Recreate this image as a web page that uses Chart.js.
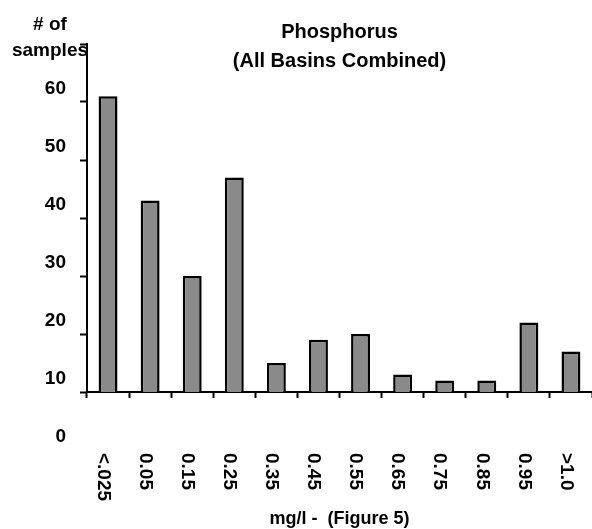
<!DOCTYPE html>
<html><head><meta charset="utf-8">
<script src="https://cdn.jsdelivr.net/npm/chart.js@4/dist/chart.umd.min.js"></script>
<style>html,body{margin:0;padding:0;background:#fff;} #wrap{width:592px;height:529px;}</style>
</head><body><div id="wrap"><canvas id="c" width="592" height="529"></canvas></div>
<script>
const categories = ['<.025','0.05','0.15','0.25','0.35','0.45','0.55','0.65','0.75','0.85','0.95','>1.0'];
const sampleCounts = [61,43,30,47,15,19,20,13,12,12,22,17];
const yTickValues = [0,10,20,30,40,50,60,70];
const yTickLabels = ['0','10','20','30','40','50','60',''];
const titleLines = ['Phosphorus','(All Basins Combined)'];
const yTitleLines = ['# of','samples'];
const xTitle = 'mg/l -  (Figure 5)';

const FAMILY = '"Liberation Sans", Arial, Helvetica, sans-serif';

const textPlugin = {
  id: 'texts',
  afterDraw(chart) {
    const ctx = chart.ctx;
    const xs = chart.scales.x;
    const ca = chart.chartArea;
    ctx.save();
    ctx.fillStyle = '#000';
    ctx.textAlign = 'center';
    ctx.textBaseline = 'alphabetic';
    ctx.font = 'bold 20px ' + FAMILY;
    const cx = (ca.left + ca.right) / 2;
    ctx.fillText(titleLines[0], cx, 38);
    ctx.fillText(titleLines[1], cx, 67);
    ctx.font = 'bold 19px ' + FAMILY;
    ctx.fillText(yTitleLines[0], 50, 30);
    ctx.fillText(yTitleLines[1], 50, 56);
    ctx.font = 'bold 19px ' + FAMILY;
    ctx.textAlign = 'left';
    ctx.textBaseline = 'middle';
    categories.forEach((c, i) => {
      const px = xs.getPixelForValue(i) - 5;
      ctx.save();
      ctx.translate(px, 453);
      ctx.rotate(Math.PI / 2);
      ctx.fillText(c, 0, 0);
      ctx.restore();
    });
    ctx.restore();
  }
};

new Chart(document.getElementById('c'), {
  type: 'bar',
  data: {
    labels: categories,
    datasets: [{
      data: sampleCounts,
      backgroundColor: '#8a8a8a',
      borderColor: '#000',
      borderWidth: 2.5,
      borderSkipped: false,
      barPercentage: 0.45,
      categoryPercentage: 1
    }]
  },
  options: {
    responsive: false,
    animation: false,
    devicePixelRatio: 1,
    layout: { padding: { top: 44, left: 0, right: 0, bottom: 0 } },
    plugins: { legend: { display: false }, tooltip: { enabled: false }, title: { display: false } },
    scales: {
      x: {
        afterFit: s => { s.height = 137; },
        border: { display: true, color: '#000', width: 2 },
        grid: { offset: true, drawOnChartArea: false, drawTicks: true, tickLength: 6, tickWidth: 2, tickColor: '#000' },
        ticks: { display: false },
        title: { display: true, text: xTitle, color: '#000', font: { family: FAMILY, size: 18, weight: 'bold' }, padding: { top: 0, bottom: -1 } }
      },
      y: {
        min: 10,
        max: 70,
        beginAtZero: false,
        afterBuildTicks: s => { s.ticks = yTickValues.map(v => ({ value: v })); },
        afterFit: s => { s.width = 87; },
        border: { display: true, color: '#000', width: 2 },
        grid: {
          drawOnChartArea: false, drawTicks: true, tickLength: 7, tickWidth: 2,
          tickColor: c => (c.tick && c.tick.value === 0) ? 'rgba(0,0,0,0)' : '#000'
        },
        ticks: {
          color: '#000',
          font: { family: FAMILY, size: 19, weight: 'bold' },
          padding: 14,
          labelOffset: -13,
          callback: (v, i) => yTickLabels[i]
        }
      }
    }
  },
  plugins: [textPlugin]
});
</script>
</body></html>
